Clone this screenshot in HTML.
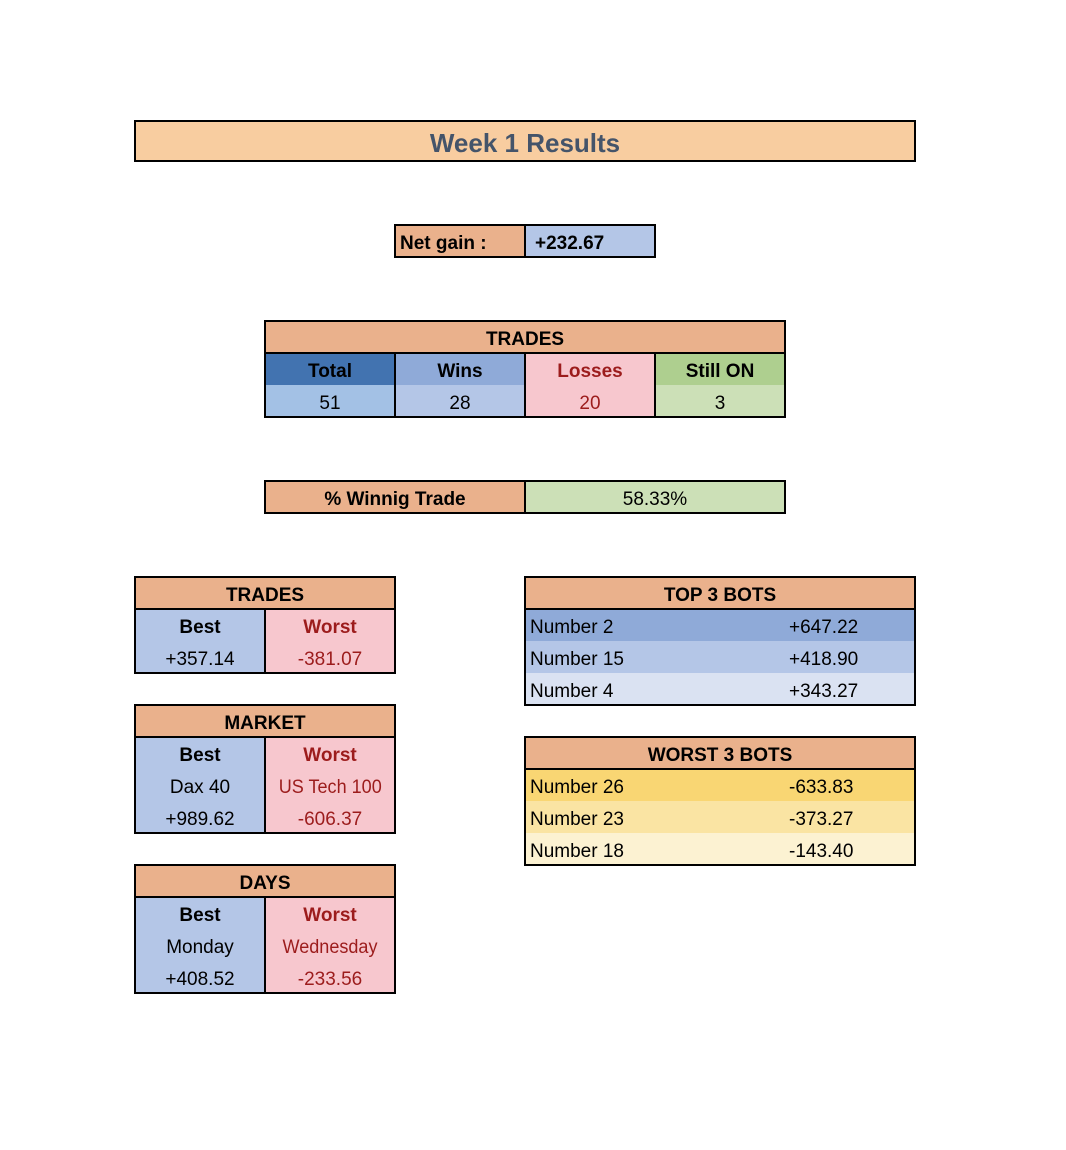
<!DOCTYPE html>
<html><head><meta charset="utf-8"><style>
body{margin:0;width:1066px;height:1150px;background:#fff;position:relative;font-family:"Liberation Sans",sans-serif;overflow:hidden}
.c{position:absolute;box-sizing:border-box;display:flex;align-items:center;justify-content:center;font-size:19px;color:#000;white-space:nowrap;padding-top:6px}
.m{justify-content:flex-start;padding-top:3px}
.f{position:absolute;box-sizing:border-box;border:2px solid #000}
.v{position:absolute;background:#000;width:2px}
.h{position:absolute;background:#000;height:2px}
.b{font-weight:bold}
.r{color:#9c1c1c}
.o{background:#eab18c}
.bl{background:#b4c6e7}
.pk{background:#f7c7ce}
.cn{transform:scaleX(.95)}
</style></head><body>
<div class="c b" style="left:135px;top:121px;width:780px;height:40px;background:#f8cda0;color:#44546a;font-size:26px;padding-top:4px">Week 1 Results</div>
<div class="f" style="left:134px;top:120px;width:782px;height:42px"></div>

<div class="c b o" style="left:395px;top:225px;width:130px;height:32px;justify-content:flex-start;padding-left:5px">Net gain :</div>
<div class="c b bl" style="left:525px;top:225px;width:130px;height:32px;justify-content:flex-start;padding-left:10px">+232.67</div>
<div class="f" style="left:394px;top:224px;width:262px;height:34px"></div>
<div class="v" style="left:524px;top:224px;height:34px"></div>

<div class="c b o" style="left:265px;top:321px;width:520px;height:32px">TRADES</div>
<div class="c b" style="left:265px;top:353px;width:130px;height:32px;background:#4273b0">Total</div>
<div class="c b" style="left:395px;top:353px;width:130px;height:32px;background:#8faad8">Wins</div>
<div class="c b r" style="left:525px;top:353px;width:130px;height:32px;background:#f7c7ce">Losses</div>
<div class="c b" style="left:655px;top:353px;width:130px;height:32px;background:#aecf8f">Still ON</div>
<div class="c" style="left:265px;top:385px;width:130px;height:32px;background:#a3c1e5">51</div>
<div class="c" style="left:395px;top:385px;width:130px;height:32px;background:#b4c6e7">28</div>
<div class="c r" style="left:525px;top:385px;width:130px;height:32px;background:#f7c7ce">20</div>
<div class="c" style="left:655px;top:385px;width:130px;height:32px;background:#cce0b7">3</div>
<div class="f" style="left:264px;top:320px;width:522px;height:98px"></div>
<div class="h" style="left:264px;top:352px;width:522px"></div>
<div class="v" style="left:394px;top:352px;height:66px"></div>
<div class="v" style="left:524px;top:352px;height:66px"></div>
<div class="v" style="left:654px;top:352px;height:66px"></div>

<div class="c b o" style="left:265px;top:481px;width:260px;height:32px">% Winnig Trade</div>
<div class="c" style="left:525px;top:481px;width:260px;height:32px;background:#cce0b7">58.33%</div>
<div class="f" style="left:264px;top:480px;width:522px;height:34px"></div>
<div class="v" style="left:524px;top:480px;height:34px"></div>

<div class="c b o" style="left:135px;top:577px;width:260px;height:32px">TRADES</div>
<div class="c m bl" style="left:135px;top:609px;width:130px;height:64px;flex-direction:column;line-height:32px"><span class="b">Best</span><span>+357.14</span></div>
<div class="c m pk r" style="left:265px;top:609px;width:130px;height:64px;flex-direction:column;line-height:32px"><span class="b">Worst</span><span>-381.07</span></div>
<div class="f" style="left:134px;top:576px;width:262px;height:98px"></div>
<div class="h" style="left:134px;top:608px;width:262px"></div>
<div class="v" style="left:264px;top:608px;height:66px"></div>

<div class="c b o" style="left:135px;top:705px;width:260px;height:32px">MARKET</div>
<div class="c m bl" style="left:135px;top:737px;width:130px;height:96px;flex-direction:column;line-height:32px"><span class="b">Best</span><span>Dax 40</span><span>+989.62</span></div>
<div class="c m pk r" style="left:265px;top:737px;width:130px;height:96px;flex-direction:column;line-height:32px"><span class="b">Worst</span><span class="cn">US Tech 100</span><span>-606.37</span></div>
<div class="f" style="left:134px;top:704px;width:262px;height:130px"></div>
<div class="h" style="left:134px;top:736px;width:262px"></div>
<div class="v" style="left:264px;top:736px;height:98px"></div>

<div class="c b o" style="left:135px;top:865px;width:260px;height:32px">DAYS</div>
<div class="c m bl" style="left:135px;top:897px;width:130px;height:96px;flex-direction:column;line-height:32px"><span class="b">Best</span><span>Monday</span><span>+408.52</span></div>
<div class="c m pk r" style="left:265px;top:897px;width:130px;height:96px;flex-direction:column;line-height:32px"><span class="b">Worst</span><span class="cn">Wednesday</span><span>-233.56</span></div>
<div class="f" style="left:134px;top:864px;width:262px;height:130px"></div>
<div class="h" style="left:134px;top:896px;width:262px"></div>
<div class="v" style="left:264px;top:896px;height:98px"></div>

<div class="c b o" style="left:525px;top:577px;width:390px;height:32px">TOP 3 BOTS</div>
<div class="c" style="left:525px;top:609px;width:390px;height:32px;background:#8faad8;justify-content:flex-start;padding-left:5px">Number 2<span style="position:absolute;left:264px">+647.22</span></div>
<div class="c" style="left:525px;top:641px;width:390px;height:32px;background:#b4c6e7;justify-content:flex-start;padding-left:5px">Number 15<span style="position:absolute;left:264px">+418.90</span></div>
<div class="c" style="left:525px;top:673px;width:390px;height:32px;background:#dae2f2;justify-content:flex-start;padding-left:5px">Number 4<span style="position:absolute;left:264px">+343.27</span></div>
<div class="f" style="left:524px;top:576px;width:392px;height:130px"></div>
<div class="h" style="left:524px;top:608px;width:392px"></div>

<div class="c b o" style="left:525px;top:737px;width:390px;height:32px">WORST 3 BOTS</div>
<div class="c" style="left:525px;top:769px;width:390px;height:32px;background:#f9d673;justify-content:flex-start;padding-left:5px">Number 26<span style="position:absolute;left:264px">-633.83</span></div>
<div class="c" style="left:525px;top:801px;width:390px;height:32px;background:#fae4a3;justify-content:flex-start;padding-left:5px">Number 23<span style="position:absolute;left:264px">-373.27</span></div>
<div class="c" style="left:525px;top:833px;width:390px;height:32px;background:#fcf2d2;justify-content:flex-start;padding-left:5px">Number 18<span style="position:absolute;left:264px">-143.40</span></div>
<div class="f" style="left:524px;top:736px;width:392px;height:130px"></div>
<div class="h" style="left:524px;top:768px;width:392px"></div>
</body></html>
